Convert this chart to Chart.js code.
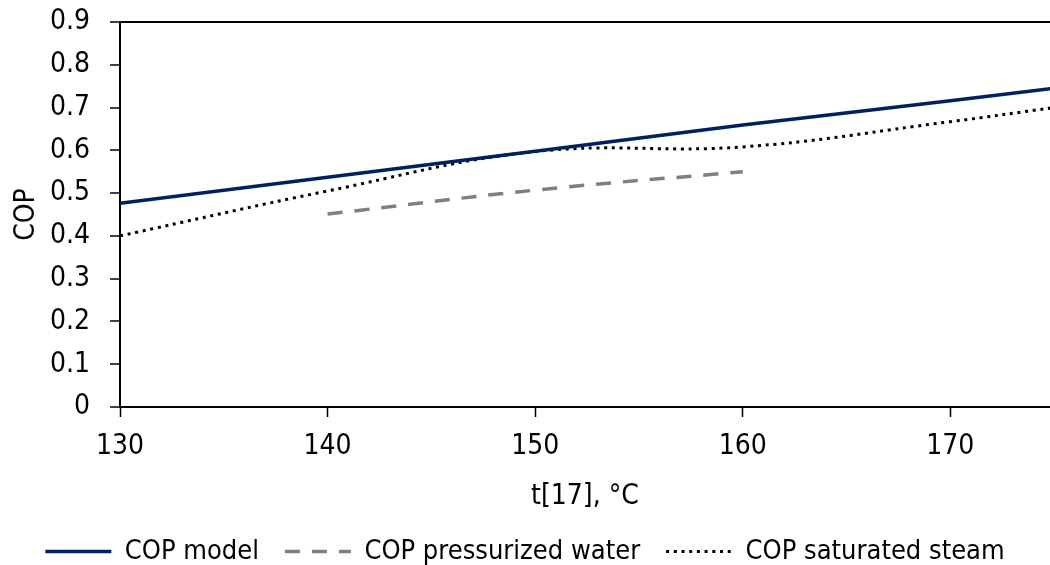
<!DOCTYPE html>
<html>
<head>
<meta charset="utf-8">
<script src="https://cdn.jsdelivr.net/npm/chart.js@4/dist/chart.umd.min.js"></script>
<style>
  html, body { margin: 0; padding: 0; background: #fff; }
  #wrap { width: 1050px; height: 565px; }
</style>
</head>
<body>
<div id="wrap"><canvas id="cop-chart"></canvas></div>
<script>
// Temperatures (°C) and COP values for each series
const modelT = [130, 140, 150, 160, 170, 175];
const modelCop = [0.476, 0.537, 0.598, 0.659, 0.716, 0.745];

const waterT = [140, 150, 160];
const waterCop = [0.451, 0.507, 0.55];

const steamT = [130, 140, 150, 160, 170, 175];
const steamCop = [0.40, 0.505, 0.597, 0.608, 0.667, 0.70];

const seriesNames = ['COP model', 'COP pressurized water', 'COP saturated steam'];
const xTitle = 't[17], °C';
const yTitle = 'COP';

const toPoints = (xs, ys) => xs.map((x, i) => ({ x: x, y: ys[i] }));

Chart.defaults.font.family = "'DejaVu Sans Condensed', 'Liberation Sans Narrow', Roboto, sans-serif";
Chart.defaults.font.size = 27;
Chart.defaults.color = '#000';

const plotTop = 22;
const plotBottom = 407;
const padBottom = -10;

new Chart(document.getElementById('cop-chart'), {
  type: 'line',
  data: {
    datasets: [
      {
        label: seriesNames[0],
        data: toPoints(modelT, modelCop),
        borderColor: '#002060',
        backgroundColor: '#002060',
        borderWidth: 3.5,
        tension: 0,
        pointRadius: 0,
      },
      {
        label: seriesNames[1],
        data: toPoints(waterT, waterCop),
        borderColor: '#7f7f7f',
        backgroundColor: '#7f7f7f',
        borderWidth: 3.5,
        borderDash: [15, 12],
        tension: 0.4,
        pointRadius: 0,
      },
      {
        label: seriesNames[2],
        data: toPoints(steamT, steamCop),
        borderColor: '#000',
        backgroundColor: '#000',
        borderWidth: 3,
        borderDash: [3, 4.7],
        tension: 0.4,
        pointRadius: 0,
      },
    ],
  },
  options: {
    responsive: true,
    maintainAspectRatio: false,
    animation: false,
    layout: { padding: { top: plotTop, right: 0, left: 0, bottom: padBottom } },
    plugins: {
      tooltip: { enabled: false },
      legend: {
        position: 'bottom',
        labels: {
          usePointStyle: true,
          pointStyle: 'line',
          pointStyleWidth: 66,
          padding: 26,
          font: { size: 27 },
          // legend samples follow the dataset line style (dash + width)
          generateLabels: (chart) =>
            Chart.defaults.plugins.legend.labels.generateLabels(chart).map((item) => {
              const ds = chart.data.datasets[item.datasetIndex];
              item.lineDash = ds.borderDash || [];
              item.lineWidth = ds.borderWidth;
              item.strokeStyle = ds.borderColor;
              item.pointStyle = 'line';
              return item;
            }),
        },
      },
    },
    scales: {
      x: {
        type: 'linear',
        min: 130,
        max: 174.8,
        border: { color: '#000', width: 2 },
        grid: { drawOnChartArea: false, tickColor: '#000', tickLength: 10, tickWidth: 1.5 },
        ticks: { stepSize: 10, includeBounds: false, autoSkip: false, padding: 13, font: { size: 28 } },
        title: { display: true, text: xTitle, font: { size: 28 }, padding: { top: 4, bottom: -2 } },
        afterFit: (scale) => {
          scale.height = 565 - plotBottom - scale.chart.legend.height - padBottom;
        },
      },
      y: {
        min: 0,
        max: 0.9,
        border: { color: '#000', width: 2 },
        grid: {
          color: (ctx) => (ctx.tick && Math.abs(ctx.tick.value - 0.9) < 1e-6 ? '#000' : 'transparent'),
          lineWidth: 2,
          tickColor: '#000',
          tickLength: 10,
          tickWidth: 1.5,
        },
        ticks: { stepSize: 0.1, autoSkip: false, padding: 20, font: { size: 28 }, callback: (v) => +v.toFixed(1) },
        title: { display: true, text: yTitle, font: { size: 28 }, padding: { top: 10, bottom: 0 } },
        afterFit: (scale) => {
          scale.width = 120;
          scale.paddingTop = 0;
          scale.paddingBottom = 0;
        },
      },
    },
  },
});
</script>
</body>
</html>
